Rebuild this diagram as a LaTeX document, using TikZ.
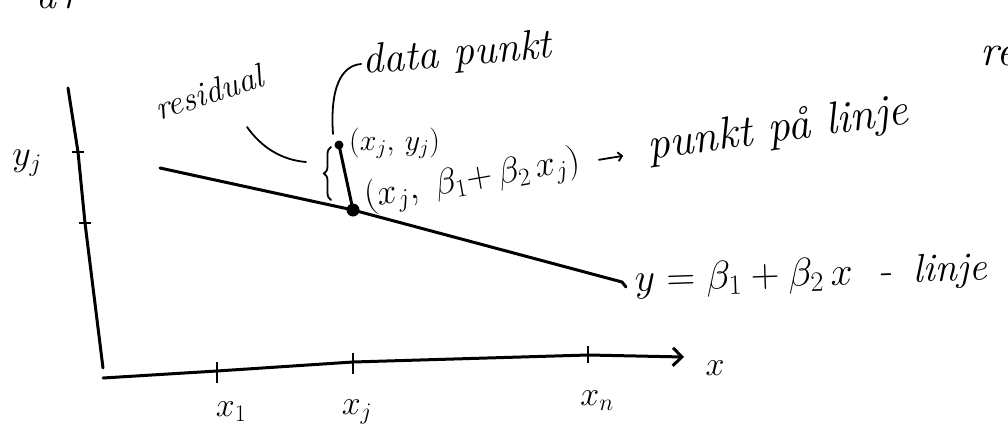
\RequirePackage{fix-cm}
\documentclass[tikz,border=0pt]{standalone}
\usetikzlibrary{decorations.pathreplacing,arrows.meta}
\begin{document}
\begin{tikzpicture}[x=1pt,y=-1pt,
  hand/.style={line width=3pt, line cap=round, line join=round},
  thinhand/.style={line width=1.8pt, line cap=round},
  tickmark/.style={line width=2pt},
  lbl/.style={inner sep=1pt, font=\fontsize{#1}{#1}\selectfont},
  lbl/.default=30,
  dotpt/.style={circle, fill, inner sep=0pt, minimum size=#1}]
\useasboundingbox (0,0) rectangle (1008,428);
% cut-off fragments at the edges
\node[lbl=40, anchor=base west] (frag1) at (35,9) {\itshape a\,r};
\node[lbl=44, anchor=base west] (frag2) at (979,66) {\itshape re};
% y axis
\coordinate (ytop) at (68,88);
\coordinate (yt1) at (78,152);
\coordinate (yt2) at (85,223);
\coordinate (ybot) at (103,368);
\draw[hand] (ytop) -- (yt1) -- (yt2) -- (ybot);
\draw[tickmark] (yt1) ++(-6,0) -- ++(12,0);
\draw[tickmark] (yt2) ++(-6,0) -- ++(12,0);
\node[lbl=36] (lyj) at (27,163) {$y_j$};
% x axis
\coordinate (xo) at (103,378);
\coordinate (x1) at (217,371);
\coordinate (xj) at (353,362);
\coordinate (xn) at (588,355);
\coordinate (xe) at (684,357);
\draw[hand, -{Straight Barb[length=9pt,width=18pt]}] (xo) -- (x1) -- (xj) -- (xn) -- (xe);
\draw[tickmark] (x1) ++(0,-9) -- ++(0,21);
\draw[tickmark] (xj) ++(0,-9) -- ++(0,21);
\draw[tickmark] (xn) ++(0,-9) -- ++(0,17);
\node[lbl=34] (lx) at (715,368) {$x$};
\node[lbl=34] (lx1) at (231,412) {$x_1$};
\node[lbl=34] (lxj) at (357,412) {$x_j$};
\node[lbl=34] (lxn) at (597,401) {$x_n$};
% regression line and points
\coordinate (ls) at (160,168);
\coordinate (le) at (622,282);
\node[dotpt=13pt] (lp) at (353,210) {};
\node[dotpt=9pt] (dp) at (339,145) {};
\draw[hand] (ls) -- (lp.center) -- (le) -- ++(4,5);
\draw[hand] (dp.center) -- (lp.center);
\node[lbl=40, anchor=base west, rotate=2] (leq) at (634,292)
  {$y = \beta_1 + \beta_2\,x$\hspace{28pt}-\hspace{20pt}\itshape linje};
% residual
\draw[thinhand, decorate, decoration={brace, amplitude=7pt}] (331,200) -- (331,147);
\node[lbl=34, anchor=base west, rotate=18] (res) at (158,121) {\itshape residual};
\coordinate (rc) at (247,127);
\coordinate (rb) at (306,162);
\draw[thinhand] (rc) .. controls (262,148) and (282,160) .. (rb);
% data point label
\node[lbl=42, anchor=base west, rotate=5] (dat) at (362,74) {\itshape data punkt};
\coordinate (dc) at (361,64);
\coordinate (dd) at (333,134);
\draw[thinhand] (dc) .. controls (340,66) and (330,90) .. (dd);
\node[lbl=30, anchor=base west] (pj) at (348,150) {$(x_j,\, y_j)$};
% point on line label
\node[lbl=36, anchor=base west, rotate=10] (pl) at (365,208) {$(x_j,\ \beta_1{+}\,\beta_2\, x_j)$};
\node[lbl=45, anchor=base west, rotate=8] (pkt) at (648,160) {\itshape punkt på linje};
\draw[thinhand, -{Straight Barb[length=4pt,width=9pt]}, shorten <=18pt, shorten >=24pt] (pl) -- (pkt);
\end{tikzpicture}
\end{document}
